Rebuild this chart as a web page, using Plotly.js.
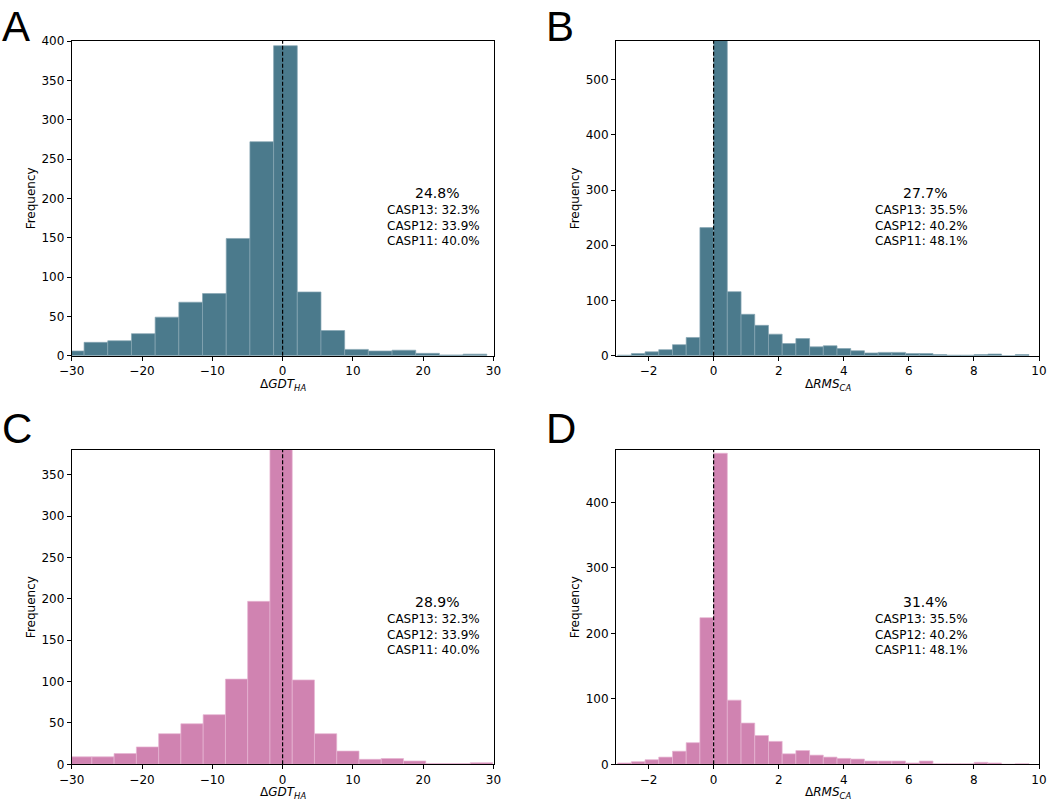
<!DOCTYPE html>
<html>
<head>
<meta charset="utf-8">
<script src="https://cdn.plot.ly/plotly-3.0.1.min.js"></script>
<style>html,body{margin:0;padding:0;background:#fff;}#chart{width:1050px;height:804px;}</style>
</head>
<body>
<div id="chart"></div>
<script>
// ---- Data ----
// Panel A: ΔGDT_HA histogram (bin edges and counts)
const gdtEdgesA = [-31.61, -28.24, -24.87, -21.50, -18.13, -14.76, -11.39, -8.02, -4.65, -1.28, 2.09, 5.46, 8.83, 12.20, 15.57, 18.94, 22.31, 25.68, 29.05];
const gdtCountsA = [6, 17, 19, 28, 49, 68, 79, 149, 272, 394, 81, 32, 8, 6, 7, 3, 1, 2];

// Panel C: ΔGDT_HA histogram
const gdtEdgesC = [-30.30, -27.13, -23.97, -20.80, -17.63, -14.47, -11.30, -8.13, -4.97, -1.80, 1.37, 4.53, 7.70, 10.87, 14.03, 17.20, 20.37, 23.53, 26.70, 29.87];
const gdtCountsC = [9, 9, 13, 21, 37, 49, 60, 103, 197, 420, 102, 37, 16, 6, 7, 4, 1, 1, 2];

// Panels B and D: ΔRMS_CA histograms (shared bin edges)
const rmsEdges = [-2.950, -2.528, -2.107, -1.686, -1.264, -0.843, -0.421, 0.000, 0.421, 0.843, 1.264, 1.686, 2.107, 2.528, 2.950, 3.371, 3.793, 4.214, 4.635, 5.057, 5.478, 5.900, 6.321, 6.743, 7.164, 7.585, 8.007, 8.428, 8.850, 9.271, 9.692];
const rmsCountsB = [1, 4, 7, 11, 20, 33, 232, 610, 116, 75, 55, 39, 22, 31, 16, 18, 13, 9, 5, 6, 6, 4, 4, 2, 1, 1, 2, 3, 0, 2];
const rmsCountsD = [2, 4, 7, 11, 20, 33, 224, 475, 98, 63, 44, 35, 16, 21, 14, 11, 9, 8, 5, 5, 5, 2, 5, 1, 1, 1, 3, 2, 0, 1];

// Annotation texts
const panelLetters = ["A", "B", "C", "D"];
const headlinePct = ["24.8%", "27.7%", "28.9%", "31.4%"];
const caspGDT = ["CASP13: 32.3%", "CASP12: 33.9%", "CASP11: 40.0%"];
const caspRMS = ["CASP13: 35.5%", "CASP12: 40.2%", "CASP11: 48.1%"];

// Axis settings
const xRangeGDT = [-30, 30];
const xRangeRMS = [-3, 10];
const yMaxA = 400, yMaxB = 570, yMaxC = 380, yMaxD = 480;
const refLineX = 0;

// ---- Styling ----
const blue = '#4b7a8c', blueEdge = '#86a6b3';
const pink = '#d083b1', pinkEdge = '#e6b5d2';
const FONT = 'DejaVu Sans, sans-serif';
const FS = 12;

function histTrace(edges, counts, xa, ya, color, edgeColor) {
  const x = [], w = [];
  for (let i = 0; i < counts.length; i++) {
    x.push((edges[i] + edges[i + 1]) / 2);
    w.push(edges[i + 1] - edges[i]);
  }
  return {
    type: 'bar', x: x, y: counts, width: w, xaxis: xa, yaxis: ya,
    marker: {color: color, line: {color: edgeColor, width: 0.7}},
    hoverinfo: 'x+y', showlegend: false
  };
}

const data = [
  histTrace(gdtEdgesA, gdtCountsA, 'x', 'y', blue, blueEdge),
  histTrace(rmsEdges, rmsCountsB, 'x2', 'y2', blue, blueEdge),
  histTrace(gdtEdgesC, gdtCountsC, 'x3', 'y3', pink, pinkEdge),
  histTrace(rmsEdges, rmsCountsD, 'x4', 'y4', pink, pinkEdge)
];

const W = 1050, H = 804;
// pixel boxes of the four plot areas
const boxes = {
  A: {l: 71.7, r: 493.5, t: 41, b: 355.7},
  B: {l: 616, r: 1039, t: 41, b: 355.7},
  C: {l: 71.7, r: 493.5, t: 450, b: 764.3},
  D: {l: 616, r: 1039, t: 450, b: 764.3}
};
function xd(b) { return [b.l / W, b.r / W]; }
function yd(b) { return [1 - b.b / H, 1 - b.t / H]; }

function axisBase() {
  return {
    showgrid: false, zeroline: false, showline: true, mirror: true,
    linecolor: '#000', linewidth: 1, ticks: 'outside', ticklen: 4, tickwidth: 1, tickcolor: '#000',
    tickfont: {family: FONT, size: FS, color: '#000'}, fixedrange: true, tick0: 0
  };
}
function xAxis(box, range, dtick, anchor) {
  return Object.assign(axisBase(), {domain: xd(box), range: range, anchor: anchor, dtick: dtick});
}
function yAxis(box, range, dtick, anchor) {
  return Object.assign(axisBase(), {domain: yd(box), range: range, anchor: anchor, dtick: dtick});
}

const annotations = [];
const letterPos = [[1, 26.5], [545, 26.5], [1, 428], [545, 428]];
panelLetters.forEach((t, i) => {
  annotations.push({text: t, xref: 'paper', yref: 'paper', x: letterPos[i][0] / W, y: 1 - letterPos[i][1] / H,
    xanchor: 'left', yanchor: 'middle', borderpad: 0, showarrow: false,
    font: {family: 'Liberation Sans, Arial, sans-serif', size: 42, color: '#000'}});
});

const axIds = ['', '2', '3', '4'];
const pctX = [0.867, 0.730, 0.867, 0.730];
const caspX = [0.8576, 0.7227, 0.8576, 0.7227];
const caspSets = [caspGDT, caspRMS, caspGDT, caspRMS];
axIds.forEach((id, i) => {
  const xr = 'x' + id + ' domain', yr = 'y' + id + ' domain';
  annotations.push({text: headlinePct[i], xref: xr, yref: yr, x: pctX[i], y: 0.517, xanchor: 'center', yanchor: 'middle',
    showarrow: false, font: {family: FONT, size: 14, color: '#000'}});
  const ys = [0.462, 0.412, 0.363];
  caspSets[i].forEach((t, j) => {
    annotations.push({text: t, xref: xr, yref: yr, x: caspX[i], y: ys[j], xanchor: 'center', yanchor: 'middle',
      showarrow: false, font: {family: FONT, size: FS, color: '#000'}});
  });
});

// axis titles
const xTitles = ['Δ<i>GDT</i><sub><i>HA</i></sub>', 'Δ<i>RMS</i><sub><i>CA</i></sub>', 'Δ<i>GDT</i><sub><i>HA</i></sub>', 'Δ<i>RMS</i><sub><i>CA</i></sub>'];
const boxList = [boxes.A, boxes.B, boxes.C, boxes.D];
boxList.forEach((b, i) => {
  annotations.push({text: xTitles[i], xref: 'paper', yref: 'paper', x: (b.l + b.r) / 2 / W, y: 1 - (b.b + 29) / H,
    xanchor: 'center', yanchor: 'middle', showarrow: false, font: {family: FONT, size: FS, color: '#000'}});
  const fx = (i % 2 === 0) ? 31 : 575;
  annotations.push({text: 'Frequency', xref: 'paper', yref: 'paper', x: fx / W, y: 1 - (b.t + b.b) / 2 / H,
    xanchor: 'center', yanchor: 'middle', textangle: -90, showarrow: false, font: {family: FONT, size: FS, color: '#000'}});
});

const shapes = axIds.map(id => ({
  type: 'line', xref: 'x' + id, yref: 'y' + id + ' domain', x0: refLineX, x1: refLineX, y0: 0, y1: 1,
  line: {color: '#000', width: 1.2, dash: '4px,2px'}, layer: 'above'
}));

const layout = {
  width: W, height: H, margin: {l: 0, r: 0, t: 0, b: 0},
  paper_bgcolor: '#fff', plot_bgcolor: '#fff', bargap: 0, showlegend: false,
  font: {family: FONT, size: FS, color: '#000'},
  xaxis: xAxis(boxes.A, xRangeGDT, 10, 'y'),
  yaxis: yAxis(boxes.A, [0, yMaxA], 50, 'x'),
  xaxis2: xAxis(boxes.B, xRangeRMS, 2, 'y2'),
  yaxis2: yAxis(boxes.B, [0, yMaxB], 100, 'x2'),
  xaxis3: xAxis(boxes.C, xRangeGDT, 10, 'y3'),
  yaxis3: yAxis(boxes.C, [0, yMaxC], 50, 'x3'),
  xaxis4: xAxis(boxes.D, xRangeRMS, 2, 'y4'),
  yaxis4: yAxis(boxes.D, [0, yMaxD], 100, 'x4'),
  annotations: annotations, shapes: shapes
};

Plotly.newPlot('chart', data, layout, {displayModeBar: false, staticPlot: true});
</script>
</body>
</html>
